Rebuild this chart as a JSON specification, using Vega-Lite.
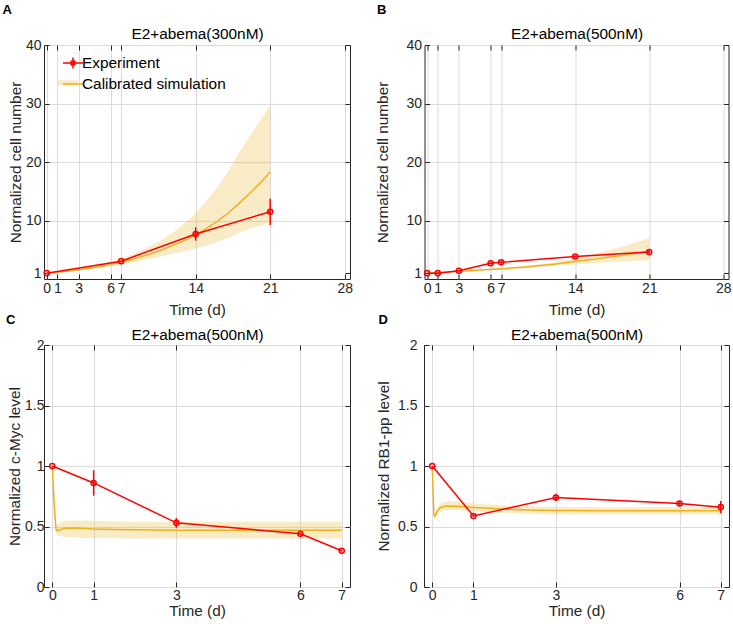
{
  "$schema": "https://vega.github.io/schema/vega-lite/v6.json",
  "background": "white",
  "padding": {"left": 1, "top": 3, "right": 0, "bottom": 0},
  "config": {
    "font": "Liberation Sans",
    "view": {"stroke": "#262626", "strokeWidth": 1},
    "axis": {"labelFont": "Liberation Sans", "labelFontSize": 14, "labelColor": "#262626", "titleFont": "Liberation Sans", "titleFontSize": 15.4, "titleFontWeight": "normal", "titleColor": "#262626", "gridColor": "#DCDCDC", "gridWidth": 1, "tickColor": "#262626", "tickSize": -5, "tickWidth": 1, "domain": false, "labelOverlap": false, "labelFlush": false, "format": "~f", "minExtent": 0},
    "title": {"font": "Liberation Sans", "color": "#000000"}
  },
  "datasets": {
    "expA": [
      {"t": 0, "y": 1.0, "lo": 1.0, "hi": 1.0, "series": "Experiment"},
      {"t": 7, "y": 3.05, "lo": 2.95, "hi": 3.15, "series": "Experiment"},
      {"t": 14, "y": 7.7, "lo": 6.55, "hi": 8.85, "series": "Experiment"},
      {"t": 21, "y": 11.5, "lo": 9.25, "hi": 13.7, "series": "Experiment"}
    ],
    "simA": [
      {"t": 0, "y": 1.0, "lo": 1.0, "hi": 1.0, "series": "Calibrated simulation"},
      {"t": 1, "y": 1.17, "lo": 1.13, "hi": 1.2, "series": "Calibrated simulation"},
      {"t": 2, "y": 1.36, "lo": 1.27, "hi": 1.45, "series": "Calibrated simulation"},
      {"t": 3, "y": 1.58, "lo": 1.45, "hi": 1.72, "series": "Calibrated simulation"},
      {"t": 4, "y": 1.84, "lo": 1.65, "hi": 2.05, "series": "Calibrated simulation"},
      {"t": 5, "y": 2.14, "lo": 1.88, "hi": 2.5, "series": "Calibrated simulation"},
      {"t": 6, "y": 2.5, "lo": 2.15, "hi": 2.95, "series": "Calibrated simulation"},
      {"t": 7, "y": 2.9, "lo": 2.5, "hi": 3.5, "series": "Calibrated simulation"},
      {"t": 8, "y": 3.35, "lo": 2.8, "hi": 4.15, "series": "Calibrated simulation"},
      {"t": 9, "y": 3.87, "lo": 3.15, "hi": 4.95, "series": "Calibrated simulation"},
      {"t": 10, "y": 4.45, "lo": 3.55, "hi": 5.85, "series": "Calibrated simulation"},
      {"t": 11, "y": 5.1, "lo": 3.95, "hi": 6.9, "series": "Calibrated simulation"},
      {"t": 12, "y": 5.85, "lo": 4.35, "hi": 8.1, "series": "Calibrated simulation"},
      {"t": 13, "y": 6.65, "lo": 4.8, "hi": 9.6, "series": "Calibrated simulation"},
      {"t": 14, "y": 7.55, "lo": 5.2, "hi": 11.3, "series": "Calibrated simulation"},
      {"t": 15, "y": 8.6, "lo": 5.7, "hi": 13.3, "series": "Calibrated simulation"},
      {"t": 16, "y": 9.8, "lo": 6.3, "hi": 15.6, "series": "Calibrated simulation"},
      {"t": 17, "y": 11.2, "lo": 7.0, "hi": 18.3, "series": "Calibrated simulation"},
      {"t": 18, "y": 12.8, "lo": 7.8, "hi": 21.3, "series": "Calibrated simulation"},
      {"t": 19, "y": 14.5, "lo": 8.5, "hi": 24.2, "series": "Calibrated simulation"},
      {"t": 20, "y": 16.3, "lo": 9.1, "hi": 26.9, "series": "Calibrated simulation"},
      {"t": 21, "y": 18.3, "lo": 9.7, "hi": 29.7, "series": "Calibrated simulation"}
    ],
    "expB": [
      {"t": 0, "y": 1.0, "lo": 0.97, "hi": 1.03},
      {"t": 1, "y": 1.0, "lo": 0.9, "hi": 1.1},
      {"t": 3, "y": 1.4, "lo": 1.3, "hi": 1.5},
      {"t": 6, "y": 2.7, "lo": 2.5, "hi": 2.9},
      {"t": 7, "y": 2.85, "lo": 2.65, "hi": 3.05},
      {"t": 14, "y": 3.85, "lo": 3.65, "hi": 4.05},
      {"t": 21, "y": 4.6, "lo": 4.3, "hi": 4.9}
    ],
    "simB": [
      {"t": 0, "y": 1.0, "lo": 1.0, "hi": 1.0},
      {"t": 1, "y": 1.1, "lo": 1.09, "hi": 1.11},
      {"t": 2, "y": 1.21, "lo": 1.19, "hi": 1.23},
      {"t": 3, "y": 1.32, "lo": 1.29, "hi": 1.36},
      {"t": 4, "y": 1.43, "lo": 1.38, "hi": 1.48},
      {"t": 5, "y": 1.54, "lo": 1.47, "hi": 1.61},
      {"t": 6, "y": 1.64, "lo": 1.56, "hi": 1.74},
      {"t": 7, "y": 1.74, "lo": 1.64, "hi": 1.86},
      {"t": 8, "y": 1.86, "lo": 1.74, "hi": 1.98},
      {"t": 9, "y": 2.0, "lo": 1.85, "hi": 2.16},
      {"t": 10, "y": 2.16, "lo": 1.97, "hi": 2.37},
      {"t": 11, "y": 2.34, "lo": 2.1, "hi": 2.6},
      {"t": 12, "y": 2.54, "lo": 2.24, "hi": 2.86},
      {"t": 13, "y": 2.76, "lo": 2.37, "hi": 3.2},
      {"t": 14, "y": 3.0, "lo": 2.5, "hi": 3.6},
      {"t": 15, "y": 3.22, "lo": 2.62, "hi": 3.98},
      {"t": 16, "y": 3.44, "lo": 2.74, "hi": 4.38},
      {"t": 17, "y": 3.67, "lo": 2.85, "hi": 4.82},
      {"t": 18, "y": 3.91, "lo": 2.95, "hi": 5.3},
      {"t": 19, "y": 4.17, "lo": 3.05, "hi": 5.8},
      {"t": 20, "y": 4.46, "lo": 3.13, "hi": 6.4},
      {"t": 21, "y": 4.78, "lo": 3.2, "hi": 7.0}
    ],
    "expC": [
      {"t": 0, "y": 1.0, "lo": 1.0, "hi": 1.0},
      {"t": 1, "y": 0.86, "lo": 0.755, "hi": 0.965},
      {"t": 3, "y": 0.53, "lo": 0.49, "hi": 0.57},
      {"t": 6, "y": 0.44, "lo": 0.43, "hi": 0.45},
      {"t": 7, "y": 0.3, "lo": 0.295, "hi": 0.305}
    ],
    "simC": [
      {"t": 0, "y": 1.0, "lo": 1.0, "hi": 1.0},
      {"t": 0.03, "y": 0.8, "lo": 0.78, "hi": 0.82},
      {"t": 0.06, "y": 0.6, "lo": 0.56, "hi": 0.64},
      {"t": 0.09, "y": 0.48, "lo": 0.44, "hi": 0.52},
      {"t": 0.12, "y": 0.465, "lo": 0.425, "hi": 0.51},
      {"t": 0.2, "y": 0.475, "lo": 0.42, "hi": 0.53},
      {"t": 0.3, "y": 0.485, "lo": 0.415, "hi": 0.545},
      {"t": 0.45, "y": 0.488, "lo": 0.41, "hi": 0.55},
      {"t": 0.7, "y": 0.485, "lo": 0.405, "hi": 0.55},
      {"t": 1, "y": 0.48, "lo": 0.405, "hi": 0.545},
      {"t": 1.5, "y": 0.476, "lo": 0.402, "hi": 0.542},
      {"t": 2, "y": 0.473, "lo": 0.4, "hi": 0.54},
      {"t": 3, "y": 0.47, "lo": 0.4, "hi": 0.54},
      {"t": 4, "y": 0.47, "lo": 0.4, "hi": 0.54},
      {"t": 5, "y": 0.47, "lo": 0.4, "hi": 0.54},
      {"t": 6, "y": 0.47, "lo": 0.4, "hi": 0.54},
      {"t": 7, "y": 0.47, "lo": 0.4, "hi": 0.54}
    ],
    "expD": [
      {"t": 0, "y": 1.0, "lo": 1.0, "hi": 1.0},
      {"t": 1, "y": 0.587, "lo": 0.58, "hi": 0.595},
      {"t": 3, "y": 0.74, "lo": 0.71, "hi": 0.77},
      {"t": 6, "y": 0.69, "lo": 0.67, "hi": 0.71},
      {"t": 7, "y": 0.66, "lo": 0.61, "hi": 0.71}
    ],
    "simD": [
      {"t": 0, "y": 1.0, "lo": 1.0, "hi": 1.0},
      {"t": 0.02, "y": 0.8, "lo": 0.79, "hi": 0.81},
      {"t": 0.04, "y": 0.6, "lo": 0.58, "hi": 0.62},
      {"t": 0.06, "y": 0.585, "lo": 0.565, "hi": 0.605},
      {"t": 0.1, "y": 0.61, "lo": 0.585, "hi": 0.635},
      {"t": 0.15, "y": 0.64, "lo": 0.61, "hi": 0.67},
      {"t": 0.2, "y": 0.655, "lo": 0.625, "hi": 0.69},
      {"t": 0.3, "y": 0.668, "lo": 0.635, "hi": 0.705},
      {"t": 0.4, "y": 0.67, "lo": 0.638, "hi": 0.71},
      {"t": 0.6, "y": 0.668, "lo": 0.635, "hi": 0.705},
      {"t": 0.8, "y": 0.663, "lo": 0.63, "hi": 0.7},
      {"t": 1, "y": 0.658, "lo": 0.625, "hi": 0.69},
      {"t": 1.5, "y": 0.648, "lo": 0.615, "hi": 0.68},
      {"t": 2, "y": 0.64, "lo": 0.61, "hi": 0.67},
      {"t": 2.5, "y": 0.635, "lo": 0.605, "hi": 0.665},
      {"t": 3, "y": 0.632, "lo": 0.6, "hi": 0.662},
      {"t": 4, "y": 0.63, "lo": 0.6, "hi": 0.66},
      {"t": 5, "y": 0.63, "lo": 0.6, "hi": 0.66},
      {"t": 6, "y": 0.63, "lo": 0.6, "hi": 0.66},
      {"t": 7, "y": 0.63, "lo": 0.6, "hi": 0.66}
    ]
  },
  "resolve": {"scale": {"stroke": "independent", "fill": "independent"}, "legend": {"stroke": "independent", "fill": "independent"}},
  "spacing": -5,
  "vconcat": [
    {
      "spacing": 21.5,
      "resolve": {"scale": {"stroke": "independent", "fill": "independent"}, "legend": {"stroke": "independent", "fill": "independent"}},
      "hconcat": [
        {
          "width": 306, "height": 234,
          "title": {"text": "A", "fontSize": 13, "fontWeight": "bold", "anchor": "start", "frame": "bounds", "offset": 10, "dx": -6},
          "layer": [
            {
              "data": {"name": "simA"},
              "mark": {"type": "area"},
              "encoding": {
                "x": {"field": "t", "type": "quantitative", "scale": {"domain": [-0.25, 28.5], "nice": false, "zero": false}, "axis": {"orient": "top", "values": [0, 1, 3, 6, 7, 14, 21, 28], "labels": false, "title": "E2+abema(300nM)", "titleColor": "#000000", "titlePadding": 3.5, "grid": false, "maxExtent": 0}},
                "y": {"field": "lo", "type": "quantitative", "scale": {"domain": [0, 40], "nice": false, "zero": false}, "axis": {"orient": "right", "values": [1, 10, 20, 30, 40], "labels": false, "title": null, "grid": false, "maxExtent": 0}},
                "y2": {"field": "hi"},
                "fill": {"field": "series", "type": "nominal", "scale": {"domain": ["Experiment", "Calibrated simulation"], "range": ["rgba(0,0,0,0)", "rgba(237,177,32,0.25)"]},
                  "legend": {"orient": "none", "legendX": 14, "legendY": 8, "title": null, "symbolType": "M-1,-0.28H1V0.28H-1Z", "symbolSize": 400, "symbolStrokeWidth": 0, "labelFontSize": 15.4, "labelFont": "Liberation Sans", "labelColor": "rgba(0,0,0,0)", "labelOffset": 3, "rowPadding": 1}}
              }
            },
            {
              "data": {"name": "simA"},
              "mark": {"type": "line", "strokeWidth": 1.5},
              "encoding": {
                "x": {"field": "t", "type": "quantitative", "axis": null},
                "y": {"field": "y", "type": "quantitative", "axis": null},
                "stroke": {"field": "series", "type": "nominal", "scale": {"domain": ["Experiment", "Calibrated simulation"], "range": ["#FF0000", "#EDB120"]},
                  "legend": {"orient": "top-left", "offset": 7, "symbolOffset": 11, "title": null, "symbolType": "stroke", "symbolSize": 400, "symbolStrokeWidth": 1.5, "labelFontSize": 15.4, "labelFont": "Liberation Sans", "labelColor": "#000000", "labelOffset": -2, "rowPadding": 1,
                    "encode": {"symbols": {"update": {"shape": {"signal": "datum.value === 'Experiment' ? 'M-1,0H1M0,-0.55V0.55M-0.22,0A0.22,0.22,0,1,1,0.22,0A0.22,0.22,0,1,1,-0.22,0' : 'M-1,0H1'"}}}}}}
              }
            },
            {
              "data": {"name": "expA"},
              "mark": {"type": "line", "strokeWidth": 1.5},
              "encoding": {
                "x": {"field": "t", "type": "quantitative", "axis": {"orient": "bottom", "values": [0, 1, 3, 6, 7, 14, 21, 28], "title": "Time (d)", "grid": true, "labelPadding": 7, "titlePadding": 7}},
                "y": {"field": "y", "type": "quantitative", "axis": {"orient": "left", "values": [1, 10, 20, 30, 40], "title": "Normalized cell number", "grid": true, "gridColor": {"condition": {"test": "datum.value === 1", "value": "rgba(0,0,0,0)"}, "value": "#DCDCDC"}, "labelPadding": 8, "titlePadding": 2}},
                "stroke": {"field": "series", "type": "nominal"}
              }
            },
            {
              "data": {"name": "expA"},
              "mark": {"type": "rule", "color": "#FF0000", "strokeWidth": 1.5},
              "encoding": {
                "x": {"field": "t", "type": "quantitative", "axis": null},
                "y": {"field": "lo", "type": "quantitative", "axis": null},
                "y2": {"field": "hi"}
              }
            },
            {
              "data": {"name": "expA"},
              "mark": {"type": "point", "shape": "circle", "filled": false, "color": "#FF0000", "size": 26, "strokeWidth": 1.5, "opacity": 1},
              "encoding": {
                "x": {"field": "t", "type": "quantitative", "axis": null},
                "y": {"field": "y", "type": "quantitative", "axis": null}
              }
            }
          ]
        },
        {
          "width": 304, "height": 234,
          "title": {"text": "B", "fontSize": 13, "fontWeight": "bold", "anchor": "start", "frame": "bounds", "offset": 10, "dx": 1},
          "layer": [
            {
              "data": {"name": "simB"},
              "mark": {"type": "area", "color": "#EDB120", "opacity": 0.25},
              "encoding": {
                "x": {"field": "t", "type": "quantitative", "scale": {"domain": [-0.25, 28.5], "nice": false, "zero": false}, "axis": {"orient": "top", "values": [0, 1, 3, 6, 7, 14, 21, 28], "labels": false, "title": "E2+abema(500nM)", "titleColor": "#000000", "titlePadding": 3.5, "grid": false, "maxExtent": 0}},
                "y": {"field": "lo", "type": "quantitative", "scale": {"domain": [0, 40], "nice": false, "zero": false}, "axis": {"orient": "right", "values": [1, 10, 20, 30, 40], "labels": false, "title": null, "grid": false, "maxExtent": 0}},
                "y2": {"field": "hi"}
              }
            },
            {
              "data": {"name": "simB"},
              "mark": {"type": "line", "strokeWidth": 1.5, "color": "#EDB120"},
              "encoding": {
                "x": {"field": "t", "type": "quantitative", "axis": null},
                "y": {"field": "y", "type": "quantitative", "axis": null}
              }
            },
            {
              "data": {"name": "expB"},
              "mark": {"type": "line", "strokeWidth": 1.5, "color": "#FF0000"},
              "encoding": {
                "x": {"field": "t", "type": "quantitative", "axis": {"orient": "bottom", "values": [0, 1, 3, 6, 7, 14, 21, 28], "title": "Time (d)", "grid": true, "labelPadding": 7, "titlePadding": 7}},
                "y": {"field": "y", "type": "quantitative", "axis": {"orient": "left", "values": [1, 10, 20, 30, 40], "title": "Normalized cell number", "grid": true, "gridColor": {"condition": {"test": "datum.value === 1", "value": "rgba(0,0,0,0)"}, "value": "#DCDCDC"}, "labelPadding": 8, "titlePadding": 15}}
              }
            },
            {
              "data": {"name": "expB"},
              "mark": {"type": "rule", "color": "#FF0000", "strokeWidth": 1.5},
              "encoding": {
                "x": {"field": "t", "type": "quantitative", "axis": null},
                "y": {"field": "lo", "type": "quantitative", "axis": null},
                "y2": {"field": "hi"}
              }
            },
            {
              "data": {"name": "expB"},
              "mark": {"type": "point", "shape": "circle", "filled": false, "color": "#FF0000", "size": 26, "strokeWidth": 1.5, "opacity": 1},
              "encoding": {
                "x": {"field": "t", "type": "quantitative", "axis": null},
                "y": {"field": "y", "type": "quantitative", "axis": null}
              }
            }
          ]
        }
      ]
    },
    {
      "spacing": 25,
      "hconcat": [
        {
          "width": 306, "height": 242,
          "title": {"text": "C", "fontSize": 13, "fontWeight": "bold", "anchor": "start", "frame": "bounds", "offset": 1, "dx": -1},
          "layer": [
            {
              "data": {"name": "simC"},
              "mark": {"type": "area", "color": "#EDB120", "opacity": 0.25},
              "encoding": {
                "x": {"field": "t", "type": "quantitative", "scale": {"domain": [-0.2, 7.2], "nice": false, "zero": false}, "axis": {"orient": "top", "values": [0, 1, 3, 6, 7], "labels": false, "title": "E2+abema(500nM)", "titleColor": "#000000", "titlePadding": 2.3, "grid": false, "maxExtent": 0}},
                "y": {"field": "lo", "type": "quantitative", "scale": {"domain": [0, 2], "nice": false, "zero": false}, "axis": {"orient": "right", "values": [0, 0.5, 1, 1.5, 2], "labels": false, "title": null, "grid": false, "maxExtent": 0}},
                "y2": {"field": "hi"}
              }
            },
            {
              "data": {"name": "simC"},
              "mark": {"type": "line", "strokeWidth": 1.5, "color": "#EDB120"},
              "encoding": {
                "x": {"field": "t", "type": "quantitative", "axis": null},
                "y": {"field": "y", "type": "quantitative", "axis": null}
              }
            },
            {
              "data": {"name": "expC"},
              "mark": {"type": "line", "strokeWidth": 1.5, "color": "#FF0000"},
              "encoding": {
                "x": {"field": "t", "type": "quantitative", "axis": {"orient": "bottom", "values": [0, 1, 3, 6, 7], "title": "Time (d)", "grid": true, "labelPadding": 6, "titlePadding": 1}},
                "y": {"field": "y", "type": "quantitative", "axis": {"orient": "left", "values": [0, 0.5, 1, 1.5, 2], "title": "Normalized c-Myc level", "grid": true, "labelPadding": 5, "titlePadding": 2.5}}
              }
            },
            {
              "data": {"name": "expC"},
              "mark": {"type": "rule", "color": "#FF0000", "strokeWidth": 1.5},
              "encoding": {
                "x": {"field": "t", "type": "quantitative", "axis": null},
                "y": {"field": "lo", "type": "quantitative", "axis": null},
                "y2": {"field": "hi"}
              }
            },
            {
              "data": {"name": "expC"},
              "mark": {"type": "point", "shape": "circle", "filled": false, "color": "#FF0000", "size": 26, "strokeWidth": 1.5, "opacity": 1},
              "encoding": {
                "x": {"field": "t", "type": "quantitative", "axis": null},
                "y": {"field": "y", "type": "quantitative", "axis": null}
              }
            }
          ]
        },
        {
          "width": 305, "height": 242,
          "title": {"text": "D", "fontSize": 13, "fontWeight": "bold", "anchor": "start", "frame": "bounds", "offset": 1, "dx": 2},
          "layer": [
            {
              "data": {"name": "simD"},
              "mark": {"type": "area", "color": "#EDB120", "opacity": 0.25},
              "encoding": {
                "x": {"field": "t", "type": "quantitative", "scale": {"domain": [-0.2, 7.2], "nice": false, "zero": false}, "axis": {"orient": "top", "values": [0, 1, 3, 6, 7], "labels": false, "title": "E2+abema(500nM)", "titleColor": "#000000", "titlePadding": 2.3, "grid": false, "maxExtent": 0}},
                "y": {"field": "lo", "type": "quantitative", "scale": {"domain": [0, 2], "nice": false, "zero": false}, "axis": {"orient": "right", "values": [0, 0.5, 1, 1.5, 2], "labels": false, "title": null, "grid": false, "maxExtent": 0}},
                "y2": {"field": "hi"}
              }
            },
            {
              "data": {"name": "simD"},
              "mark": {"type": "line", "strokeWidth": 1.5, "color": "#EDB120"},
              "encoding": {
                "x": {"field": "t", "type": "quantitative", "axis": null},
                "y": {"field": "y", "type": "quantitative", "axis": null}
              }
            },
            {
              "data": {"name": "expD"},
              "mark": {"type": "line", "strokeWidth": 1.5, "color": "#FF0000"},
              "encoding": {
                "x": {"field": "t", "type": "quantitative", "axis": {"orient": "bottom", "values": [0, 1, 3, 6, 7], "title": "Time (d)", "grid": true, "labelPadding": 6, "titlePadding": 1}},
                "y": {"field": "y", "type": "quantitative", "axis": {"orient": "left", "values": [0, 0.5, 1, 1.5, 2], "title": "Normalized RB1-pp level", "grid": true, "labelPadding": 12, "titlePadding": 6}}
              }
            },
            {
              "data": {"name": "expD"},
              "mark": {"type": "rule", "color": "#FF0000", "strokeWidth": 1.5},
              "encoding": {
                "x": {"field": "t", "type": "quantitative", "axis": null},
                "y": {"field": "lo", "type": "quantitative", "axis": null},
                "y2": {"field": "hi"}
              }
            },
            {
              "data": {"name": "expD"},
              "mark": {"type": "point", "shape": "circle", "filled": false, "color": "#FF0000", "size": 26, "strokeWidth": 1.5, "opacity": 1},
              "encoding": {
                "x": {"field": "t", "type": "quantitative", "axis": null},
                "y": {"field": "y", "type": "quantitative", "axis": null}
              }
            }
          ]
        }
      ]
    }
  ]
}
